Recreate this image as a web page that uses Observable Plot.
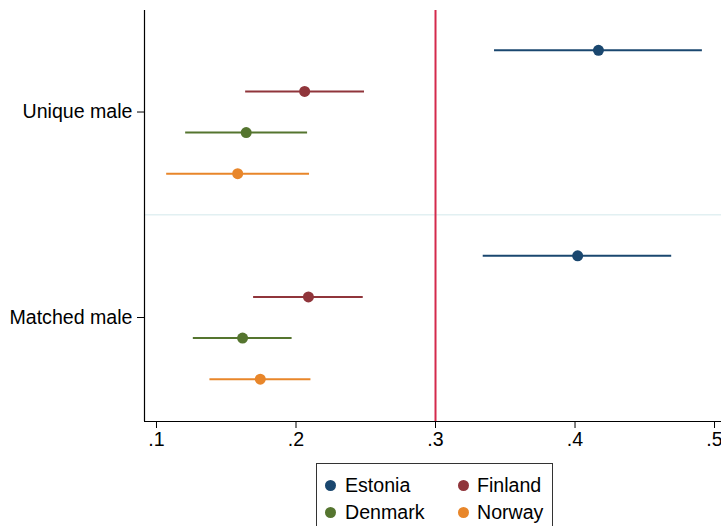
<!DOCTYPE html>
<html>
<head>
<meta charset="utf-8">
<script src="https://cdn.jsdelivr.net/npm/d3@7"></script>
<script src="https://cdn.jsdelivr.net/npm/@observablehq/plot@0.6"></script>
<style>
  html, body { margin: 0; padding: 0; background: #fff; }
  body { width: 721px; height: 526px; overflow: hidden; position: relative; font-family: "Liberation Sans", Arial, sans-serif; }
  #chart svg { display: block; }
  #legend { position: absolute; left: 316px; top: 463px; width: 237px; height: 75px; border: 1px solid #333; box-sizing: border-box; background: #fff; }
  .item { position: absolute; font-size: 19.6px; color: #000; white-space: nowrap; line-height: 19px; }
  .sw { position: absolute; width: 11px; height: 11px; border-radius: 50%; }
</style>
</head>
<body>
<div id="chart"></div>
<div id="legend"></div>
<script>
// ---- data ----
const groups = ["Unique male", "Matched male"];
const countries = ["Estonia", "Finland", "Denmark", "Norway"];
const colors = ["#1a476f", "#90353b", "#55752f", "#e8862a"];
// point estimates, by group (rows) and country (cols)
const estimates = [
  [0.4168, 0.2062, 0.1643, 0.1582],
  [0.4019, 0.2089, 0.1617, 0.1744]
];
const lower = [
  [0.3423, 0.1639, 0.1209, 0.1073],
  [0.3342, 0.1696, 0.1264, 0.1383]
];
const upper = [
  [0.4913, 0.2491, 0.2083, 0.2097],
  [0.4693, 0.2482, 0.1972, 0.2107]
];
const xTicks = [0.1, 0.2, 0.3, 0.4, 0.5];
const refLine = [0.3];

// ---- build table ----
const rowsPerGroup = countries.length + 1;
const rows = [];
groups.forEach((g, gi) => {
  countries.forEach((c, ci) => {
    rows.push({ group: g, country: c, est: estimates[gi][ci], lo: lower[gi][ci], hi: upper[gi][ci], pos: gi * rowsPerGroup + ci });
  });
});
const groupPos = groups.map((g, gi) => gi * rowsPerGroup + (countries.length - 1) / 2);
const separators = groups.slice(1).map((g, gi) => (gi + 1) * rowsPerGroup - 1);
const yDomain = [-0.97, groups.length * rowsPerGroup - 0.97];
const xDomain = [0.0914, 0.505];

const chart = Plot.plot({
  width: 721,
  height: 460,
  marginLeft: 144,
  marginRight: 0,
  marginTop: 10,
  marginBottom: 39,
  style: { fontFamily: "Liberation Sans, Arial, sans-serif", fontSize: "19.6px", color: "#000", background: "#fff", overflow: "visible" },
  x: { domain: xDomain },
  y: { domain: yDomain, reverse: true },
  color: { domain: countries, range: colors },
  marks: [
    Plot.ruleY(separators, { stroke: "#e2f0f2", strokeWidth: 1.5 }),
    Plot.ruleX(refLine, { stroke: "#d42a4c", strokeWidth: 2 }),
    Plot.ruleY(rows, { y: "pos", x1: "lo", x2: "hi", stroke: "country", strokeWidth: 2 }),
    Plot.dot(rows, { x: "est", y: "pos", fill: "country", r: 5.5 }),
    Plot.ruleX([xDomain[0]], { stroke: "#000", strokeWidth: 1.2 }),
    Plot.ruleY([yDomain[1]], { stroke: "#000", strokeWidth: 1.2 }),
    Plot.axisX({ ticks: xTicks, tickFormat: d => String(d).replace(/^0/, ""), tickSize: 7, tickPadding: 4, fontSize: 19.6, label: null, stroke: "#000" }),
    Plot.axisY({ ticks: groupPos, tickFormat: d => groups[groupPos.indexOf(d)], tickSize: 7, tickPadding: 5, fontSize: 19.6, label: null, stroke: "#000" })
  ]
});
document.getElementById("chart").appendChild(chart);

// ---- legend ----
const legend = document.getElementById("legend");
countries.forEach((c, i) => {
  const col = i % 2, row = Math.floor(i / 2);
  const sw = document.createElement("div");
  sw.className = "sw";
  sw.style.background = colors[i];
  sw.style.left = (8 + col * 133) + "px";
  sw.style.top = (16 + row * 27) + "px";
  legend.appendChild(sw);
  const t = document.createElement("div");
  t.className = "item";
  t.textContent = c;
  t.style.left = (28 + col * 132) + "px";
  t.style.top = (12 + row * 27) + "px";
  legend.appendChild(t);
});
</script>
</body>
</html>
